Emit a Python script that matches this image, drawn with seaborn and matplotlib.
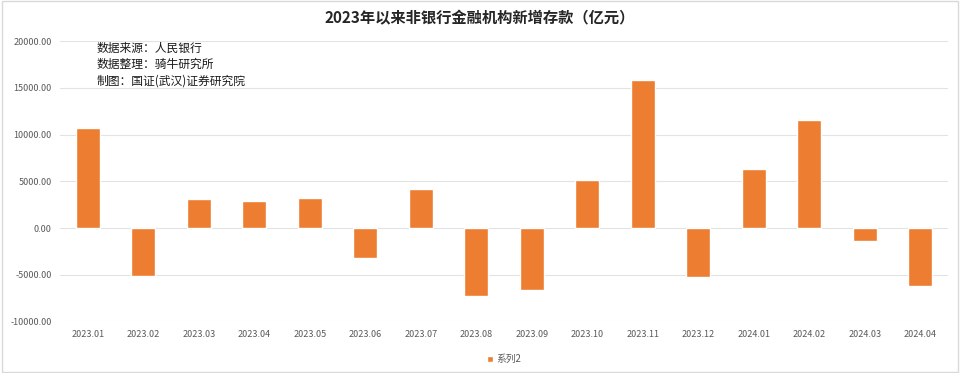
import pandas as pd
import matplotlib
matplotlib.use("Agg")
import matplotlib.pyplot as plt
import seaborn as sns
from matplotlib.patches import Rectangle

sns.set_theme(style="white")
plt.rcParams["font.family"] = ["Noto Sans CJK SC", "DejaVu Sans"]

# -------------------------------------------------------
# data - monthly new deposits of non-bank financial institutions (100m yuan)
# -------------------------------------------------------

months = ["2023.01", "2023.02", "2023.03", "2023.04", "2023.05", "2023.06",
          "2023.07", "2023.08", "2023.09", "2023.10", "2023.11", "2023.12",
          "2024.01", "2024.02", "2024.03", "2024.04"]
deposits = [10720, -5140, 3075, 2935, 3255, -3215,
            4150, -7290, -6580, 5180, 15790, -5250,
            6320, 11575, -1390, -6150]
y_ticks = [-10000, -5000, 0, 5000, 10000, 15000, 20000]

df = pd.DataFrame({"month": months, "value": deposits, "series": "系列2"})

orange = "#ED7D31"
grey   = "#595959"

fig = plt.figure(figsize=(9.6, 3.73), dpi=100)
ax = fig.add_axes([0.0625, 0.138, 0.925, 0.752])

sns.barplot(data=df, x="month", y="value", hue="series",
            palette=[orange], saturation=1, width=0.43, ax=ax, zorder=3)

ax.set_ylim(-10000, 20000)
ax.set_yticks(y_ticks)
ax.set_yticklabels([f"{t:.2f}" for t in y_ticks], fontsize=6.5, color=grey)
ax.tick_params(axis="x", labelsize=6.5, labelcolor=grey, length=0, pad=6)
ax.tick_params(axis="y", length=0, pad=6)
ax.set_xlabel("")
ax.set_ylabel("")
ax.set_xlim(-0.5, len(months) - 0.5)

ax.yaxis.grid(True, color="#E3E3E3", linewidth=0.8, zorder=0)
for s in ax.spines.values():
    s.set_visible(False)

# legend at the bottom
ax.legend(loc="upper center", bbox_to_anchor=(0.5, -0.085), frameon=False,
          fontsize=7, handlelength=0.6, handleheight=0.6, handletextpad=0.3,
          labelcolor=grey)

fig.text(0.5, 0.952, "2023年以来非银行金融机构新增存款（亿元）",
         ha="center", va="center", fontsize=11, fontweight="bold", color="#262626")

note = "数据来源：人民银行\n数据整理：骑牛研究所\n制图：国证(武汉)证券研究院"
fig.text(0.101, 0.887, note, ha="left", va="top", fontsize=8.5,
         color="#1a1a1a", linespacing=1.3)

fig.patches.append(Rectangle((0.002, 0.004), 0.996, 0.992, transform=fig.transFigure,
                             fill=False, edgecolor="#D9D9D9", linewidth=1))

fig.savefig("out.png", dpi=100, facecolor="white")
